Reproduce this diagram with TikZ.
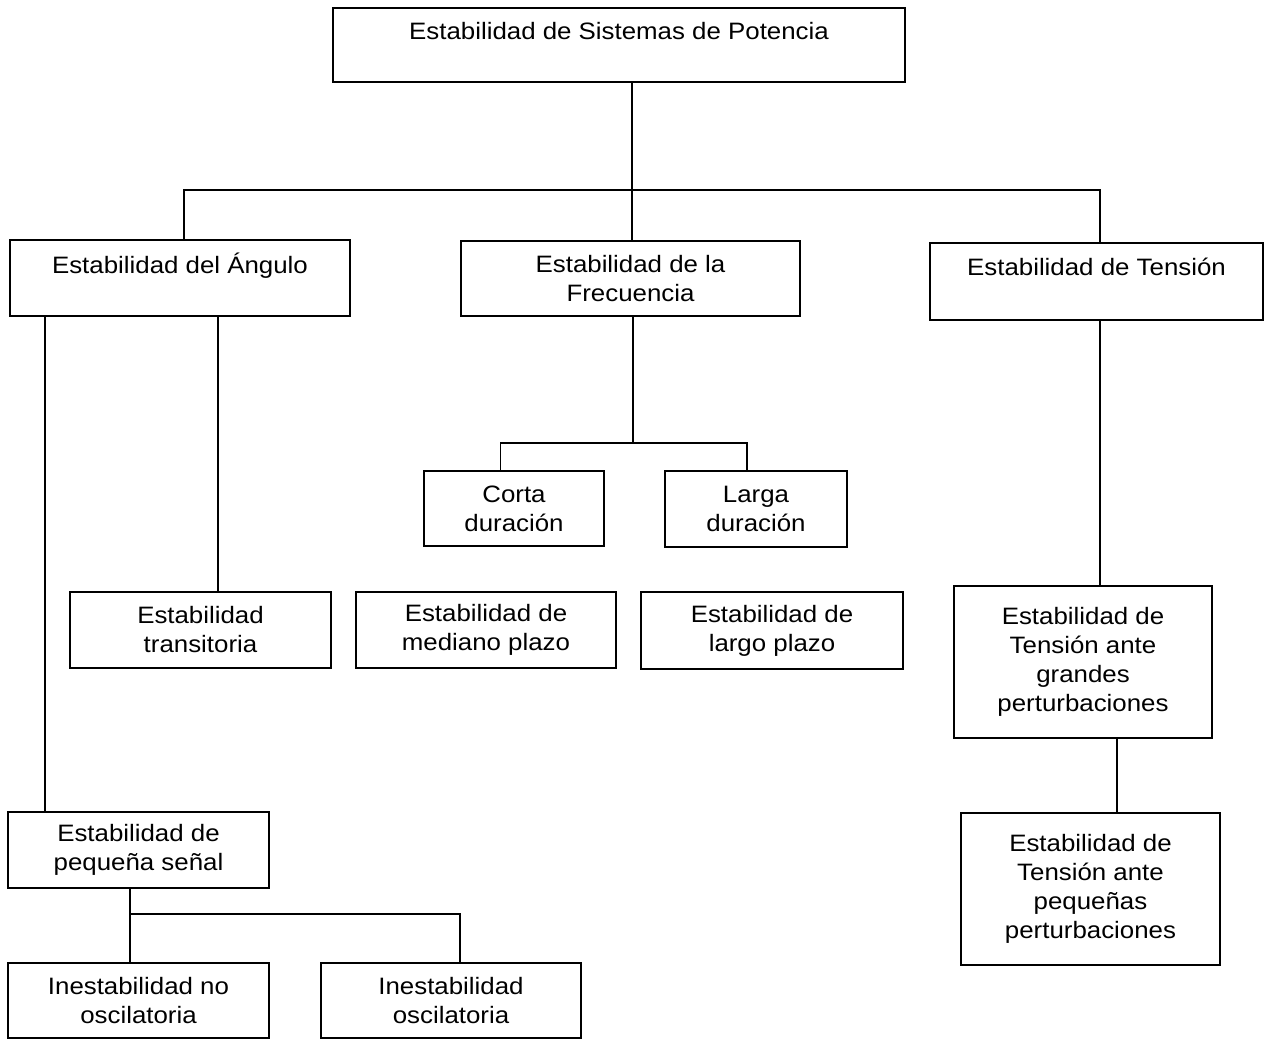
\documentclass[tikz,border=0pt]{standalone}
\usepackage{fontspec}
\setmainfont{Liberation Sans}[FakeStretch=1.09]

\begin{document}
\begin{tikzpicture}[x=0.02cm, y=-0.02cm,
	caja/.style 2 args={draw, line width=1.1pt, minimum width=#1*0.02cm, minimum height=#2*0.02cm,
		inner sep=0pt, align=center, font=\fontsize{13.5}{16.5}\selectfont},
	linea/.style={line width=1.1pt}]
	\useasboundingbox (0,0) rectangle (1268,1039);
	
	\node [caja={572}{74}] (sistema) at (619,45) {Estabilidad de Sistemas de Potencia\\ \mbox{}};
	
	\node [caja={340}{76}] (angulo) at (180,278) {Estabilidad del Ángulo\\ \mbox{}};
	\node [caja={339}{75}] (frecuencia) at (630.5,278.5) {Estabilidad de la\\ Frecuencia};
	\node [caja={333}{77}] (tension) at (1096.5,281.5) {Estabilidad de Tensión\\ \mbox{}};
	
	\node [caja={180}{75}] (corta) at (514,508.5) {Corta\\ duración};
	\node [caja={182}{76}] (larga) at (756,509) {Larga\\ duración};
	
	\node [caja={261}{76}] (transitoria) at (200.5,630) {Estabilidad\\ transitoria};
	\node [caja={260}{76}] (mediano) at (486,630) {Estabilidad de\\ mediano plazo};
	\node [caja={262}{77}] (largoplazo) at (772,630.5) {Estabilidad de\\ largo plazo};
	
	\node [caja={258}{152}] (grandes) at (1083,662) {Estabilidad de\\ Tensión ante\\ grandes\\ perturbaciones};
	\node [caja={259}{152}] (pequenas) at (1090.5,889) {Estabilidad de\\ Tensión ante\\ pequeñas\\ perturbaciones};
	
	\node [caja={261}{76}] (senal) at (138.5,850) {Estabilidad de\\ pequeña señal};
	\node [caja={261}{75}] (nooscil) at (138.5,1000.5) {Inestabilidad no\\ oscilatoria};
	\node [caja={260}{75}] (oscil) at (451,1000.5) {Inestabilidad\\ oscilatoria};
	
	\coordinate (bus) at (632,190);
	\draw [linea] ([xshift=0.03cm]frecuencia.north) -- ([xshift=0.03cm]frecuencia.north |- sistema.south);
	\draw [linea] ([xshift=0.08cm]angulo.north) |- (bus) -| ([xshift=0.07cm]tension.north);
	
	\draw [linea] ([xshift=0.76cm]angulo.south) -- ([xshift=0.35cm]transitoria.north);
	\draw [linea] ([xshift=-2.7cm]angulo.south) -- ([xshift=-1.87cm]senal.north);
	
	\draw [linea] ([xshift=0.05cm]frecuencia.south) -- ++(0,-2.52cm);
	\draw [linea] ([xshift=-0.27cm]corta.north) |- ([xshift=0.05cm,yshift=-2.52cm]frecuencia.south) -| ([xshift=-0.18cm]larga.north);
	
	\draw [linea] ([xshift=-0.17cm]senal.south) -- ([xshift=-0.17cm]nooscil.north);
	\draw [linea] ([xshift=-0.17cm,yshift=-0.5cm]senal.south) -| ([xshift=0.18cm]oscil.north);
	
	\draw [linea] ([xshift=0.07cm]tension.south) -- ([xshift=0.34cm]grandes.north);
	\draw [linea] ([xshift=0.68cm]grandes.south) -- ([xshift=0.53cm]pequenas.north);
\end{tikzpicture}
\end{document}
